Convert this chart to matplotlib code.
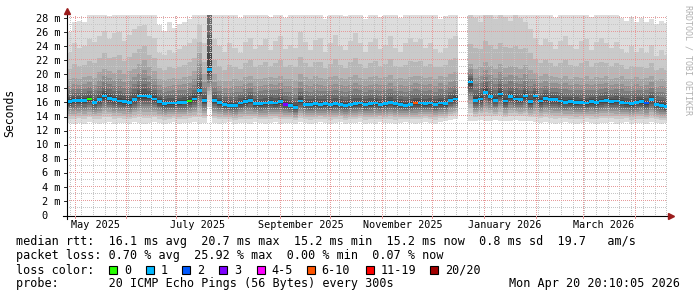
import matplotlib.pyplot as plt
import matplotlib.dates as mdates
import matplotlib.transforms as mtransforms
from matplotlib.lines import Line2D
from matplotlib.patches import Rectangle
import numpy as np
import pandas as pd

W, H = 697, 297
nan = np.nan
plt.rcParams['font.family'] = 'DejaVu Sans Mono'

# one consolidated sample every 3 days
dates = pd.date_range('2025-04-26 12:00', periods=120, freq='3D')

median_ms = [
    16.1, 16.3, 16.3, 16.3, 16.5, 16.0, 16.4, 16.9, 16.6, 16.4,
    16.2, 16.1, 16.0, 16.4, 16.9, 16.9, 16.8, 16.5, 16.1, 15.8,
    15.9, 15.9, 16.0, 16.0, 16.2, 16.5, 17.7, 16.3, 20.7, 16.3,
    16.0, 15.7, 15.6, 15.6, 15.9, 16.1, 16.3, 15.8, 15.8, 15.9,
    16.0, 15.9, 16.1, 15.7, 15.6, 15.3, 16.2, 15.7, 15.7, 15.8,
    15.7, 15.8, 15.7, 15.8, 15.7, 15.6, 15.7, 15.8, 15.9, 15.7,
    15.8, 15.9, 15.7, 15.8, 16.0, 15.8, 15.7, 15.6, 15.7, 15.9,
    15.9, 15.8, 15.9, 15.7, 15.9, 15.8, 16.3, 16.5, nan, nan,
    18.9, 16.3, 16.5, 17.4, 16.8, 16.3, 17.2, 16.2, 16.8, 16.5,
    16.4, 16.9, 16.1, 16.9, 16.2, 16.6, 16.4, 16.4, 16.2, 16.0,
    16.1, 16.0, 16.0, 15.9, 16.1, 16.0, 16.2, 16.3, 16.1, 16.2,
    16.0, 15.9, 15.8, 16.0, 16.1, 15.9, 16.4, 15.7, 15.6, 15.4,
]

# lost pings (of 20) per sample
loss_pings = [
    1, 1, 1, 1, 0, 1, 1, 1, 1, 1,
    1, 1, 1, 1, 1, 1, 1, 1, 1, 1,
    1, 1, 1, 1, 0, 1, 1, 1, 1, 1,
    1, 1, 1, 1, 1, 1, 1, 1, 1, 1,
    1, 1, 1, 3, 1, 1, 1, 1, 1, 1,
    1, 1, 1, 1, 1, 1, 1, 1, 1, 1,
    1, 1, 1, 1, 1, 1, 1, 1, 1, 7,
    1, 1, 1, 1, 1, 1, 1, 1, 1, 1,
    1, 1, 1, 1, 1, 1, 1, 1, 1, 1,
    1, 1, 1, 1, 1, 1, 1, 1, 1, 1,
    1, 1, 1, 1, 1, 1, 1, 1, 1, 1,
    1, 1, 1, 1, 1, 2, 1, 1, 1, 1,
]

# fastest ping (bottom of the smoke)
floor_ms = [
    13.1, 13.0, 13.1, 13.0, 13.2, 13.1, 13.0, 13.1, 13.2, 13.0,
    13.1, 13.1, 13.0, 13.2, 13.1, 13.0, 13.1, 13.2, 13.1, 13.0,
    13.1, 13.2, 13.0, 13.1, 13.1, 13.2, 13.0, 13.1, 15.3, 13.1,
    13.0, 13.1, 13.2, 13.0, 13.1, 13.1, 13.0, 13.2, 13.1, 13.0,
    13.1, 13.2, 13.0, 13.1, 13.1, 13.0, 13.2, 13.1, 13.0, 13.1,
    13.2, 13.1, 13.0, 13.1, 13.2, 13.0, 13.1, 13.1, 13.2, 13.0,
    13.1, 13.0, 13.2, 13.1, 13.1, 13.0, 13.1, 13.2, 13.1, 13.0,
    13.1, 13.2, 13.1, 13.0, 13.2, 13.3, 13.5, 13.6, nan, nan,
    13.4, 13.4, 13.5, 13.3, 13.4, 13.5, 13.4, 13.3, 13.4, 13.5,
    13.4, 13.3, 13.4, 13.2, 13.1, 13.2, 13.1, 13.0, 13.1, 13.2,
    13.1, 13.0, 13.1, 13.2, 13.1, 13.0, 13.1, 13.1, 13.2, 13.0,
    13.1, 13.2, 13.0, 13.1, 13.1, 13.0, 13.2, 13.1, 13.0, 13.1,
]

# 17th of 20 sorted pings
mid_ms = [
    19.3, 19.5, 19.4, 19.6, 19.8, 19.5, 20.3, 20.8, 20.5, 20.2,
    20.6, 20.0, 20.4, 20.8, 21.5, 22.0, 21.0, 20.5, 19.4, 19.2,
    19.3, 19.5, 19.4, 19.6, 19.8, 20.5, 23.0, 20.0, 45.0, 20.0,
    19.2, 19.0, 19.1, 19.3, 19.2, 19.6, 19.8, 19.3, 19.4, 19.5,
    19.6, 19.5, 19.8, 19.4, 19.3, 19.2, 20.0, 19.6, 19.4, 19.7,
    19.5, 19.4, 19.6, 19.8, 19.5, 19.3, 19.6, 19.9, 19.5, 19.4,
    19.6, 19.7, 19.5, 19.6, 19.9, 19.4, 19.5, 19.3, 19.6, 19.8,
    19.7, 19.5, 19.6, 19.4, 19.8, 19.6, 20.0, 20.3, nan, nan,
    21.5, 20.8, 21.0, 21.8, 21.2, 20.8, 21.5, 20.9, 21.2, 21.0,
    20.7, 21.3, 20.6, 20.2, 19.8, 20.0, 19.7, 19.6, 19.5, 19.8,
    19.4, 19.6, 19.5, 19.7, 19.4, 19.6, 19.5, 19.8, 19.4, 19.5,
    19.7, 19.3, 19.4, 19.6, 19.3, 19.5, 19.8, 19.2, 19.3, 19.2,
]

# 19th of 20 sorted pings
p19_ms = [
    23.0, 24.5, 23.8, 24.0, 25.0, 24.6, 25.5, 26.2, 25.0, 25.8,
    26.0, 24.8, 25.6, 26.4, 26.8, 27.0, 25.5, 25.2, 23.0, 22.8,
    23.5, 23.0, 23.6, 24.0, 24.5, 25.0, 27.0, 24.5, 60.0, 25.0,
    24.0, 23.2, 24.5, 23.8, 23.0, 24.6, 25.2, 23.6, 24.2, 25.0,
    23.4, 24.8, 25.4, 23.6, 24.2, 23.8, 26.0, 24.6, 23.5, 24.9,
    25.2, 23.2, 24.4, 25.6, 24.0, 23.4, 24.8, 25.8, 24.5, 23.2,
    24.6, 25.0, 23.6, 24.2, 25.5, 23.8, 23.2, 24.4, 25.2, 24.6,
    25.0, 23.8, 24.4, 23.6, 23.0, 23.8, 25.0, 25.5, nan, nan,
    28.5, 28.0, 27.5, 29.0, 28.6, 27.8, 28.8, 28.2, 27.6, 28.4,
    28.0, 27.4, 26.5, 25.2, 24.2, 25.0, 24.6, 23.6, 24.8, 25.4,
    24.2, 23.6, 24.8, 25.0, 23.4, 24.6, 25.2, 24.4, 23.8, 24.6,
    23.6, 23.0, 24.0, 23.2, 23.8, 23.0, 24.2, 22.6, 23.4, 22.8,
]

# slowest ping (top of the smoke)
top_ms = [
    26.0, 27.4, 27.6, 27.5, 28.6, 28.8, 29.5, 29.5, 28.3, 29.5,
    29.5, 28.8, 29.5, 29.5, 30.0, 30.0, 28.6, 29.5, 27.0, 26.2,
    27.5, 26.6, 27.2, 27.5, 27.8, 28.5, 31.0, 29.5, 70.0, 29.5,
    29.5, 28.6, 29.5, 29.5, 28.0, 29.5, 29.5, 28.5, 29.5, 29.5,
    28.2, 29.5, 29.5, 28.0, 29.5, 29.5, 30.0, 29.5, 28.4, 29.5,
    29.5, 27.8, 29.5, 29.5, 29.5, 28.3, 29.5, 29.5, 29.5, 27.9,
    29.5, 29.5, 28.2, 29.5, 29.5, 29.5, 28.0, 29.5, 29.5, 29.5,
    29.5, 28.4, 29.5, 29.5, 27.8, 28.3, 29.5, 29.5, nan, nan,
    36.0, 36.0, 35.0, 36.0, 36.0, 35.0, 36.0, 36.0, 35.0, 36.0,
    36.0, 35.0, 34.0, 29.5, 28.5, 29.5, 29.5, 28.0, 29.5, 29.5,
    29.5, 28.6, 29.5, 29.5, 28.2, 29.5, 29.5, 29.5, 28.4, 29.5,
    28.0, 27.6, 28.2, 27.4, 28.0, 27.5, 27.9, 27.1, 27.6, 27.3,
]

# where the other sorted pings sit
low_share = [1.0, 0.8, 0.68, 0.57, 0.46, 0.36, 0.27, 0.18, 0.1, 0.03]  # p1..p10
up_share = [0.04, 0.1, 0.2, 0.33, 0.5, 0.72]                            # p11..p16
p18_share = 0.4                                                         # p18 between p17 and p19

loss_max = [0, 1, 2, 3, 5, 10, 19, 20]
loss_labels = ['0', '1', '2', '3', '4-5', '6-10', '11-19', '20/20']
loss_colors = ['#26ff00', '#00b8ff', '#0059ff', '#7e00ff', '#ff00ff',
               '#ff5500', '#ff0000', '#a10000']

month_labels = ['May 2025', 'July 2025', 'September 2025', 'November 2025',
                'January 2026', 'March 2026']
month_label_dates = pd.to_datetime(['2025-05-01', '2025-07-01', '2025-09-01',
                                    '2025-11-01', '2026-01-01', '2026-03-01'])

PX_PER_MS = 197 / 28
PX_PER_DAY = 1.6716
x0 = pd.Timestamp('2025-04-26 12:00')
x1 = x0 + pd.Timedelta(days=600 / PX_PER_DAY)
y1 = 200 / PX_PER_MS

fig = plt.figure(figsize=(W / 100, H / 100), dpi=100)
fig.patch.set_facecolor('white')
ax = fig.add_axes([67 / W, (H - 215) / H, 600 / W, 200 / H])
ax.set_xlim(mdates.date2num(x0), mdates.date2num(x1))
ax.set_ylim(0, y1)
ax.axis('off')

x = mdates.date2num(dates.to_pydatetime())
med = np.array(median_ms)
lo = np.array(floor_ms)
mid = np.array(mid_ms)
p19 = np.array(p19_ms)
top = np.array(top_ms)
pings = ([med - s * (med - lo) for s in low_share]
         + [med + s * (mid - med) for s in up_share]
         + [mid, mid + p18_share * (p19 - mid), p19, top])

ok = ~np.isnan(med)
# smoke: outer pairs light, inner pairs dark
for i in range(1, 10):
    g = int(190 / 10 * (10 - i)) + 50
    bot = pings[i - 1]
    hgt = pings[20 - i] - bot
    ax.bar(x[ok], hgt[ok], bottom=bot[ok], width=3, align='edge',
           color='#%02x%02x%02x' % (g, g, g), linewidth=0,
           antialiased=False, zorder=1)

# dotted grid, one pixel on and one off
xa, xb = ax.get_xlim()
xs_dots = np.arange(xa, xb, 2 / PX_PER_DAY)
ys_dots = np.arange(0, y1, 2 / PX_PER_MS)
minor_c, major_c = '#c6c6c6', '#e69a9a'


def hgrid(v, c):
    ax.plot(xs_dots, np.full(len(xs_dots), float(v)), ls='none', marker=',', color=c, zorder=2)


def vgrid(d, c):
    xv = mdates.date2num(d)
    ax.plot(np.full(len(ys_dots), xv), ys_dots, ls='none', marker=',', color=c, zorder=2)


for v in range(1, 29, 2):
    hgrid(v, minor_c)
for d in pd.date_range('2025-04-28', '2026-04-20', freq='W-MON'):
    vgrid(d, minor_c)
for v in range(2, 29, 2):
    hgrid(v, major_c)
months = pd.date_range('2025-05-01', '2026-04-01', freq='MS')
for d in months:
    vgrid(d, major_c)

# median, coloured by loss
idx = np.searchsorted(loss_max, np.array(loss_pings))
mcol = np.array(loss_colors)[idx]
ax.bar(x[ok], 0.38, bottom=med[ok] - 0.19, width=3, align='edge',
       color=mcol[ok], linewidth=0, antialiased=False, zorder=3)


def fx(px):
    return px / W


def fy(py):
    return 1 - py / H


# axes with arrows
fig.add_artist(Line2D([fx(66.5), fx(66.5)], [fy(219), fy(11)], color='black', lw=0.8))
fig.add_artist(Line2D([fx(62.5), fx(670)], [fy(215.5), fy(215.5)], color='black', lw=0.8))
fig.add_artist(Line2D([fx(66.5)], [fy(11)], marker='^', ms=4.5, color='#9b1c1c', lw=0))
fig.add_artist(Line2D([fx(671)], [fy(215.5)], marker='>', ms=4.5, color='#9b1c1c', lw=0))

# small ticks on the axes
for v in range(2, 29, 2):
    py = 215 - v * PX_PER_MS
    fig.add_artist(Line2D([fx(63.5), fx(66.5)], [fy(py), fy(py)], color='black', lw=0.6))
for d in months:
    px = 67 + (mdates.date2num(d) - mdates.date2num(x0)) * PX_PER_DAY
    fig.add_artist(Line2D([fx(px), fx(px)], [fy(215.5), fy(218)], color=major_c, lw=0.72))

# y labels
for v in range(2, 29, 2):
    tr = mtransforms.offset_copy(ax.get_yaxis_transform(), fig=fig, x=-7, y=-3.7, units='dots')
    ax.text(0, v, f'{v} m', transform=tr, ha='right', va='baseline', fontsize=7.4)
tr0 = mtransforms.offset_copy(ax.get_yaxis_transform(), fig=fig, x=-20, y=-3.7, units='dots')
ax.text(0, 0, '0', transform=tr0, ha='right', va='baseline', fontsize=7.4)

# month labels
trx = mtransforms.offset_copy(ax.get_xaxis_transform(), fig=fig, x=0, y=-13.5, units='dots')
for d, lab in zip(month_label_dates, month_labels):
    ax.text(mdates.date2num(d + pd.Timedelta(days=12.5)), 0, lab, transform=trx,
            ha='center', va='baseline', fontsize=7.3)

fig.text(fx(10), fy(113), 'Seconds', rotation=90, ha='center', va='center', fontsize=8.3)
fig.text(fx(688), fy(60), 'RRDTOOL / TOBI OETIKER', rotation=270, ha='center',
         va='center', fontsize=6, color='#b0b0b0')

# legend block
fs = 8.5
fig.text(fx(16), fy(245.5),
         'median rtt:  16.1 ms avg  20.7 ms max  15.2 ms min  15.2 ms now  0.8 ms sd  19.7   am/s',
         fontsize=fs, va='baseline')
fig.text(fx(16), fy(259.5),
         'packet loss: 0.70 % avg  25.92 % max  0.00 % min  0.07 % now',
         fontsize=fs, va='baseline')
fig.text(fx(16), fy(273.5), 'loss color:', fontsize=fs, va='baseline')
sq_x = [109, 145.7, 182.3, 219, 256.7, 306.7, 365.7, 430]
for px, c, lab in zip(sq_x, loss_colors, loss_labels):
    fig.add_artist(Rectangle((fx(px), fy(273.5)), 8 / W, 8 / H, transform=fig.transFigure,
                             facecolor=c, edgecolor='black', lw=0.8))
    fig.text(fx(px + 15), fy(273.5), lab, fontsize=fs, va='baseline')
fig.text(fx(16), fy(287.5), 'probe:       20 ICMP Echo Pings (56 Bytes) every 300s',
         fontsize=fs, va='baseline')
fig.text(fx(680), fy(287.5), 'Mon Apr 20 20:10:05 2026', fontsize=fs,
         va='baseline', ha='right')

fig.savefig('out.png', dpi=100, facecolor='white')
